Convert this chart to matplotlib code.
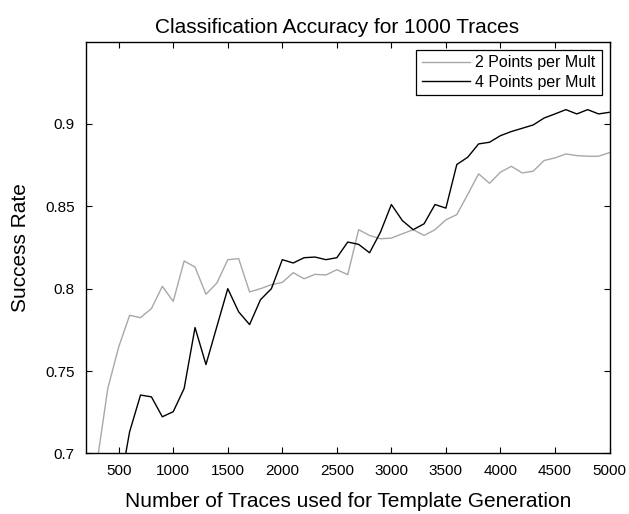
import matplotlib

matplotlib.use("Agg")
import matplotlib.pyplot as plt
import numpy as np

plt.rcParams["font.family"] = ["Liberation Sans", "DejaVu Sans"]

# sample counts (x) and success rates
traces_2pt = np.arange(300, 5001, 100)
rate_2pt = [
    0.694, 0.7394, 0.7646, 0.7838, 0.7824, 0.7879, 0.8014, 0.7923, 0.8168, 0.8131,
    0.7966, 0.8034, 0.8176, 0.8182, 0.798, 0.800, 0.8024, 0.8038, 0.8097, 0.806,
    0.8087, 0.8083, 0.8115, 0.8085, 0.8358, 0.8323, 0.8303, 0.8307, 0.8333, 0.8358,
    0.8323, 0.8358, 0.8418, 0.845, 0.8572, 0.8697, 0.864, 0.8707, 0.8743, 0.8703,
    0.8713, 0.8778, 0.8794, 0.8818, 0.8808, 0.8804, 0.8804, 0.8826,
]
traces_4pt = np.arange(500, 5001, 100)
rate_4pt = [
    0.676, 0.7131, 0.7354, 0.7343, 0.7222, 0.7253, 0.7394, 0.7764, 0.7539, 0.777,
    0.800, 0.7859, 0.7782, 0.7933, 0.800, 0.8176, 0.8156, 0.8188, 0.8192, 0.8176,
    0.8188, 0.8283, 0.8269, 0.8218, 0.8343, 0.8511, 0.8414, 0.8358, 0.8394, 0.8511,
    0.8489, 0.8754, 0.8798, 0.8879, 0.8889, 0.8929, 0.8954, 0.8974, 0.8994, 0.9036,
    0.9061, 0.9087, 0.9061, 0.9087, 0.9061, 0.9071,
]
x_ticks = np.arange(500, 5001, 500)
y_ticks = [0.7, 0.75, 0.8, 0.85, 0.9]
y_tick_labels = ["0.7", "0.75", "0.8", "0.85", "0.9"]

fig = plt.figure(figsize=(6.29, 5.14), dpi=100)
ax = fig.add_axes([0.1367, 0.118, 0.8323, 0.801])
ax.plot(traces_2pt, rate_2pt, color="#a8a8a8", lw=1.0, label="2 Points per Mult")
ax.plot(traces_4pt, rate_4pt, color="black", lw=1.0, label="4 Points per Mult")
ax.set_xlim(200, 5000)
ax.set_ylim(0.7, 0.95)
ax.set_xticks(x_ticks)
ax.set_yticks(y_ticks)
ax.set_yticklabels(y_tick_labels)
ax.tick_params(direction="in", top=True, right=True, labelsize=11, length=4,
               width=0.8, pad=8)
for sp in ax.spines.values():
    sp.set_linewidth(1.0)
ax.set_title("Classification Accuracy for 1000 Traces", fontsize=15, pad=6, x=0.48)
ax.set_xlabel("Number of Traces used for Template Generation", fontsize=15, labelpad=10)
ax.set_ylabel("Success Rate", fontsize=15, labelpad=11)
leg = ax.legend(loc="upper right", fontsize=11.5, fancybox=False, framealpha=1,
                edgecolor="black", borderaxespad=0.5, handlelength=3.0,
                borderpad=0.35, labelspacing=0.28, handletextpad=0.35)
leg.get_frame().set_linewidth(0.9)
plt.savefig("out.png", dpi=100)
plt.close()
